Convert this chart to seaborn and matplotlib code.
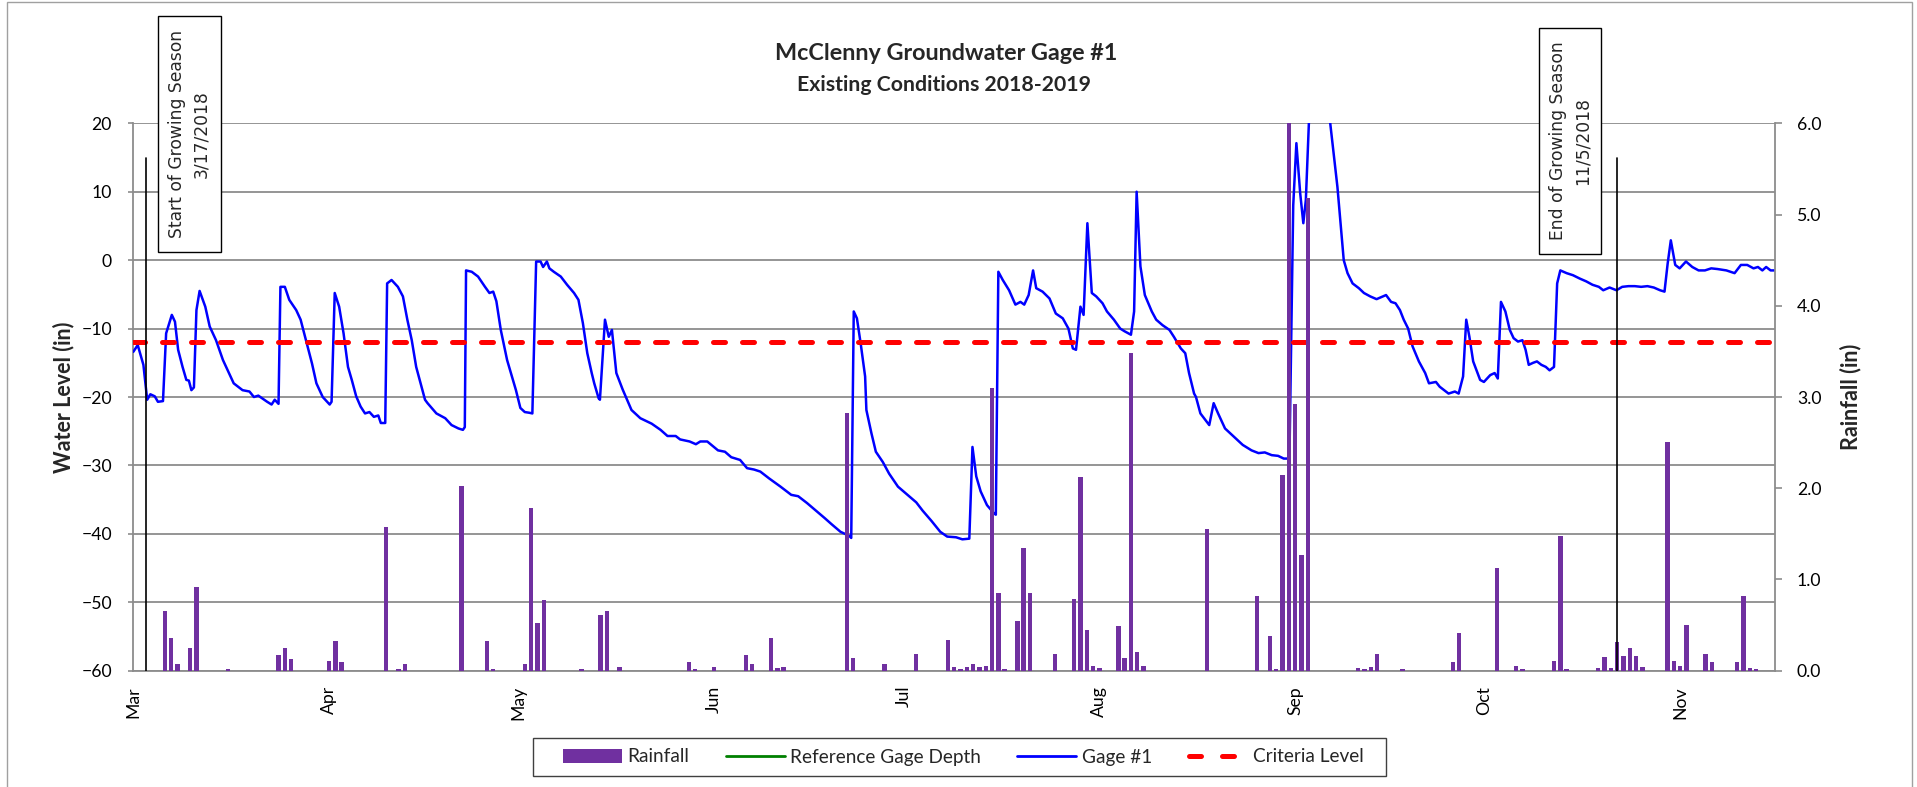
import numpy as np
import pandas as pd
import matplotlib
matplotlib.use("Agg")
import matplotlib.pyplot as plt
import matplotlib.dates as mdates
from matplotlib.lines import Line2D
from matplotlib.patches import Patch, Rectangle
from matplotlib.ticker import FormatStrFormatter
import seaborn as sns

# ---------------------------------------------------------------- data
season_origin = "2018-03-01"          # day 0 of the record

# Gage #1 water level (in), day offsets from 2018-03-01
gage_day = [
    0.0, 0.7, 1.6, 2.2, 2.7, 3.4, 3.9, 4.7, 5.2, 6.1, 6.6, 7.1, 7.8, 8.4, 8.8, 9.2, 9.6,
    10.0, 10.5, 11.4, 12.1, 13.1, 14.2, 15.2, 15.9, 17.3, 18.4, 19.1, 19.8, 21.2, 21.9,
    22.4, 23.0, 23.3, 24.0, 24.7, 25.8, 26.5, 27.6, 28.3, 29.0, 30.0, 30.7, 31.1, 31.4,
    31.9, 32.6, 33.3, 34.0, 34.6, 35.3, 36.0, 36.7, 37.4, 38.1, 38.8, 39.2, 39.9, 40.2,
    40.9, 41.9, 42.7, 43.4, 44.1, 44.8, 45.5, 46.2, 46.6, 48.0, 49.4, 50.4, 51.5, 52.2,
    52.5, 52.7, 53.6, 54.6, 55.7, 56.4, 57.0, 57.5, 58.2, 59.2, 60.6, 61.3, 62.0, 62.7,
    63.2, 63.8, 64.5, 64.9, 65.5, 65.9, 66.6, 67.7, 68.7, 69.8, 70.5, 71.2, 71.9, 72.6,
    73.0, 73.7, 73.9, 74.7, 75.3, 75.8, 76.5, 77.5, 78.2, 78.9, 80.3, 82.1, 83.5, 84.6,
    85.9, 86.6, 88.1, 89.1, 89.8, 90.9, 92.6, 93.7, 94.7, 96.1, 97.2, 98.3, 99.3, 100.7,
    102.5, 104.2, 105.3, 106.7, 108.1, 109.5, 110.6, 112.0, 113.4, 113.7, 114.1, 114.6,
    115.2, 115.9, 116.1, 116.9, 117.6, 118.7, 119.7, 121.1, 122.6, 124.0, 125.0, 126.4,
    127.8, 128.9, 130.3, 131.3, 132.4, 132.9, 133.5, 134.2, 135.2, 136.3, 136.6, 137.0,
    137.7, 138.7, 139.7, 140.5, 141.1, 141.8, 142.5, 143.0, 144.0, 145.1, 146.1, 147.2,
    148.1, 148.8, 149.3, 150.0, 150.5, 151.1, 151.8, 152.5, 153.5, 154.2, 155.3, 156.3,
    157.0, 158.0, 158.5, 158.9, 159.5, 160.2, 161.3, 162.0, 163.0, 164.1, 164.8, 165.9,
    166.6, 167.2, 168.0, 168.3, 169.0, 170.4, 171.1, 171.8, 172.9, 174.3, 175.7, 177.1,
    178.2, 179.2, 180.3, 181.3, 182.2, 183.1, 183.7, 184.2, 184.8, 185.3, 185.7, 186.2,
    186.6, 188.9, 189.5, 190.7, 191.7, 192.3, 193.1, 194.1, 194.9, 195.9, 196.9, 197.9,
    198.4, 199.2, 199.9, 200.6, 201.2, 201.9, 202.6, 203.6, 204.6, 205.2, 206.3, 206.9,
    207.9, 208.3, 209.3, 209.9, 210.6, 211.1, 211.6, 212.2, 213.3, 213.9, 214.9, 215.6,
    216.1, 216.6, 217.3, 218.0, 218.6, 219.3, 220.0, 220.5, 221.0, 221.7, 222.3, 223.0,
    223.7, 224.3, 225.0, 225.5, 226.0, 227.0, 228.0, 229.1, 230.1, 231.1, 232.1, 232.8,
    233.8, 234.9, 235.8, 236.8, 237.8, 238.8, 239.8, 240.8, 241.8, 242.5, 243.0, 243.5,
    244.2, 244.9, 245.9, 246.9, 247.9, 248.9, 249.9, 250.9, 252.3, 253.6, 254.6, 255.6,
    256.6, 257.3, 258.0, 258.6, 259.3, 259.9,
]
gage_level = [
    -13.4, -12.4, -15.3, -20.4, -19.6, -19.9, -20.7, -20.6, -10.7, -8.0, -9.0, -13.1, -15.6, -17.5, -17.6, -19.0, -18.6,
    -7.3, -4.5, -6.8, -9.7, -11.7, -14.6, -16.6, -18.0, -19.0, -19.2, -20.0, -19.8, -20.7, -21.1,
    -20.4, -21.0, -3.9, -3.9, -5.8, -7.3, -8.7, -12.6, -15.1, -18.0, -20.0, -20.7, -21.1, -20.7,
    -4.8, -6.8, -10.7, -15.6, -17.5, -19.9, -21.4, -22.4, -22.2, -22.9, -22.7, -23.8, -23.8, -3.4,
    -2.9, -3.9, -5.3, -8.7, -11.7, -15.6, -18.0, -20.4, -20.9, -22.4, -23.1, -24.1, -24.6, -24.8,
    -24.4, -1.5, -1.7, -2.4, -3.9, -4.8, -4.6, -6.0, -10.2, -14.6, -19.0, -21.6, -22.2, -22.3,
    -22.4, -0.2, -0.2, -1.0, -0.2, -1.2, -1.7, -2.4, -3.6, -4.8, -5.8, -9.2, -13.6, -16.5,
    -18.0, -20.2, -20.4, -8.7, -11.2, -10.2, -16.5, -18.9, -20.4, -21.9, -23.1, -23.9, -24.8, -25.7,
    -25.7, -26.2, -26.5, -26.9, -26.5, -26.5, -27.8, -28.0, -28.8, -29.2, -30.4, -30.6, -30.9, -31.9,
    -33.1, -34.3, -34.5, -35.5, -36.6, -37.7, -38.6, -39.7, -40.3, -40.6, -7.5, -8.5,
    -12.2, -17.0, -21.9, -25.3, -28.0, -29.5, -31.2, -33.1, -34.3, -35.4, -36.6, -38.1,
    -39.7, -40.4, -40.5, -40.8, -40.7, -27.3, -31.6, -33.8, -35.8, -37.0, -37.2, -1.7,
    -2.9, -4.4, -6.5, -6.1, -6.5, -5.1, -1.5, -4.1, -4.6, -5.6, -7.8, -8.5,
    -10.0, -12.9, -13.1, -6.8, -8.0, 5.4, -4.8, -5.3, -6.3, -7.5, -8.7, -10.0,
    -10.4, -10.9, -7.5, 10.0, -0.9, -5.1, -7.5, -8.7, -9.5, -10.2, -11.2, -12.9,
    -13.6, -16.5, -19.5, -20.0, -22.4, -24.1, -20.9, -22.4, -24.6, -25.8, -27.0, -27.8,
    -28.2, -28.1, -28.5, -28.6, -29.0, -29.0, 8.0, 17.1, 9.8, 5.4, 8.8, 20.5,
    24.0, 24.0, 20.5, 10.7, 0.0, -1.9, -3.4, -4.1, -4.8, -5.3, -5.7, -5.3,
    -5.1, -6.1, -6.3, -7.3, -8.7, -10.0, -12.6, -14.8, -16.5, -18.0, -17.8, -18.5,
    -19.2, -19.5, -19.2, -19.5, -17.0, -8.7, -11.2, -14.8, -17.5, -17.8, -16.8, -16.5,
    -17.3, -6.1, -7.5, -10.2, -11.4, -11.9, -11.7, -13.1, -15.3, -15.0, -14.8, -15.3,
    -15.6, -16.1, -15.6, -3.4, -1.5, -1.9, -2.2, -2.7, -3.1, -3.6, -3.9, -4.4,
    -4.0, -4.4, -3.9, -3.8, -3.8, -3.9, -3.8, -4.0, -4.4, -4.6, -0.5, 2.9,
    -0.7, -1.2, -0.2, -1.0, -1.5, -1.5, -1.2, -1.3, -1.5, -1.9, -0.7, -0.7,
    -1.2, -1.0, -1.5, -1.0, -1.5, -1.5,
]

# Daily rainfall (in), day offsets from 2018-03-01
rain_day = [
    5, 6, 7, 9, 10, 15, 23, 24, 25, 31, 32, 33, 40, 42, 43, 52, 56, 57, 62, 63, 64, 65,
    71, 74, 75, 77, 88, 89, 92, 97, 98, 101, 102, 103, 113, 114, 119, 124, 129, 130, 131,
    132, 133, 134, 135, 136, 137, 138, 140, 141, 142, 146, 149, 150, 151, 152, 153, 156,
    157, 158, 159, 160, 170, 178, 180, 181, 182, 183, 184, 185, 186, 194, 195, 196, 197,
    201, 209, 210, 216, 219, 220, 225, 226, 227, 232, 233, 234, 235, 236, 237, 238, 239,
    243, 244, 245, 246, 249, 250, 254, 255, 256, 257,
]
rain_in = [
    0.65, 0.355, 0.07, 0.245, 0.92, 0.02, 0.17, 0.245, 0.13, 0.11, 0.33, 0.10, 1.57, 0.02,
    0.07, 2.02, 0.33, 0.02, 0.07, 1.78, 0.52, 0.77,
    0.02, 0.61, 0.65, 0.04, 0.10, 0.02, 0.04, 0.17, 0.07, 0.355, 0.03, 0.04, 2.83, 0.14,
    0.07, 0.18, 0.34, 0.04, 0.02,
    0.04, 0.07, 0.04, 0.05, 3.10, 0.855, 0.02, 0.54, 1.35, 0.855, 0.18, 0.79, 2.12, 0.45,
    0.05, 0.03, 0.49,
    0.14, 3.48, 0.20, 0.05, 1.55, 0.82, 0.38, 0.02, 2.15, 6.6, 2.92, 1.27, 5.18, 0.03,
    0.02, 0.04, 0.18,
    0.02, 0.10, 0.41, 1.13, 0.05, 0.02, 0.11, 1.48, 0.02, 0.03, 0.15, 0.03, 0.31, 0.16,
    0.245, 0.16, 0.04,
    2.51, 0.11, 0.05, 0.50, 0.18, 0.10, 0.10, 0.82, 0.03, 0.02,
]

criteria_day = [0, 259]
criteria_level = [-12.0, -12.0]

# growing-season markers as drawn on the chart, and their captions
season_marker_day = [2, 235]
season_marker_text = ["Start of Growing Season\n3/17/2018", "End of Growing Season\n11/5/2018"]

level_ticks = list(range(-60, 21, 10))
rain_ticks = [0, 1, 2, 3, 4, 5, 6]

# ---------------------------------------------------------------- style
W, H, DPI = 1917, 787, 100
PURPLE = "#7030A0"
GRID = "#8c8c8c"

sns.set_style("white")
plt.rcParams["font.family"] = ["Lato", "DejaVu Sans"]

fig = plt.figure(figsize=(W / DPI, H / DPI), dpi=DPI)


def fx(px):
    return px / W


def fy(py):
    return 1 - py / H


ax = fig.add_axes([fx(133.3), fy(670.7), fx(1775) - fx(133.3), fy(123.3) - fy(670.7)])
ax2 = ax.twinx()

origin = mdates.date2num(pd.Timestamp(season_origin))
gage_x = origin + np.asarray(gage_day, dtype=float)
rain_x = origin + np.asarray(rain_day, dtype=float)
crit_x = origin + np.asarray(criteria_day, dtype=float)

# water-level series on the primary axis
sns.lineplot(x=gage_x, y=gage_level, ax=ax, color="#0000FF", lw=1.8,
             estimator=None, sort=False, zorder=3)
sns.lineplot(x=crit_x, y=criteria_level, ax=ax, color="#FF0000", lw=3.6,
             estimator=None, sort=False, linestyle=(0, (2.4, 3.4)),
             dash_capstyle="round", zorder=4)

# daily rainfall bars on the secondary axis
sns.histplot(x=rain_x, weights=rain_in, discrete=True, shrink=0.7, ax=ax2,
             color=PURPLE, alpha=1, linewidth=0, element="bars")

ax.set_ylim(-60, 20)
ax2.set_ylim(0, 6)
ax.set_xlim(origin, origin + 260)

# growing season marker lines
marker_top = 15
for d in season_marker_day:
    ax2.axvline(origin + d, ymin=0,
                ymax=(marker_top - level_ticks[0]) / (level_ticks[-1] - level_ticks[0]),
                color="black", lw=1.2, zorder=6)

# axes styling
ax.set_yticks(level_ticks)
ax2.set_yticks(rain_ticks)
ax2.yaxis.set_major_formatter(FormatStrFormatter("%.1f"))
ax.xaxis.set_major_locator(mdates.MonthLocator())
ax.xaxis.set_major_formatter(mdates.DateFormatter("%b"))

ax.grid(False)
ax2.grid(False)
ax.yaxis.grid(True, color=GRID, lw=1.3)
ax.set_axisbelow(True)

ax.spines["top"].set_visible(False)
for s in ["top", "left", "bottom"]:
    ax2.spines[s].set_visible(False)
for s in ["left", "bottom"]:
    ax.spines[s].set_color(GRID)
    ax.spines[s].set_linewidth(1.3)
ax.spines["right"].set_visible(False)
ax2.spines["right"].set_color(GRID)
ax2.spines["right"].set_linewidth(1.3)

tick_fs = 12.7
ax.tick_params(axis="y", direction="out", length=3.8, width=1.2, color=GRID,
               pad=11.5, labelsize=tick_fs, labelcolor="black")
ax.tick_params(axis="x", direction="inout", length=10, width=1.2, color=GRID,
               pad=6, labelsize=tick_fs, labelcolor="black", labelrotation=90)
ax2.tick_params(axis="y", direction="out", length=5, width=1.2, color=GRID,
                pad=10.8, labelsize=tick_fs, labelcolor="black")
ax2.tick_params(axis="x", bottom=False, labelbottom=False)

ax.set_xlabel("")
ax2.set_xlabel("")
ax.set_ylabel("")
ax2.set_ylabel("")

# axis titles
fig.text(fx(63.6), fy(397), "Water Level (in)", rotation=90, ha="center", va="center",
         fontsize=15.5, fontweight="bold")
fig.text(fx(1851), fy(397), "Rainfall (in)", rotation=90, ha="center", va="center",
         fontsize=15.5, fontweight="bold")

# titles
fig.text(fx(946), fy(53), "McClenny Groundwater Gage #1", ha="center", va="center",
         fontsize=16.8, fontweight="bold")
fig.text(fx(944), fy(85), "Existing Conditions 2018-2019", ha="center", va="center",
         fontsize=15.3, fontweight="bold")

# caption boxes for the growing season markers
boxes = [(158, 16, 221, 252), (1539, 28, 1601, 254)]
for (x0, y0, x1, y1), txt in zip(boxes, season_marker_text):
    fig.patches.append(Rectangle((fx(x0), fy(y1)), fx(x1) - fx(x0), fy(y0) - fy(y1),
                                 transform=fig.transFigure, fill=True, facecolor="white",
                                 edgecolor="black", lw=1.0, zorder=5))
    fig.text(fx((x0 + x1) / 2), fy((y0 + y1) / 2), txt, rotation=90, ha="center",
             va="center", multialignment="center", fontsize=12.3, linespacing=1.45,
             family=["DejaVu Sans"], zorder=6)

# legend
handles = [
    Patch(facecolor=PURPLE, edgecolor="none"),
    Line2D([], [], color="#008000", lw=2),
    Line2D([], [], color="#0000FF", lw=2),
    Line2D([], [], color="#FF0000", lw=3.6, linestyle=(0, (2.4, 4.2)), dash_capstyle="round"),
]
labels = ["Rainfall", "Reference Gage Depth", "Gage #1", "Criteria Level"]
fig.legend(handles, labels, loc="center", bbox_to_anchor=(fx(963.5), fy(757)), ncol=4,
           frameon=False, handlelength=3.1, handletextpad=0.3, columnspacing=1.9,
           fontsize=13.7)
fig.patches.append(Rectangle((fx(533), fy(776)), fx(1386) - fx(533), fy(738) - fy(776),
                             transform=fig.transFigure, fill=False, edgecolor="#404040",
                             lw=1.0))

# outer chart border
fig.patches.append(Rectangle((fx(7), fy(792)), fx(1912) - fx(7), fy(2) - fy(792),
                             transform=fig.transFigure, fill=False, edgecolor="#a0a0a0",
                             lw=1.0))

fig.savefig("out.png", dpi=DPI, facecolor="white")
